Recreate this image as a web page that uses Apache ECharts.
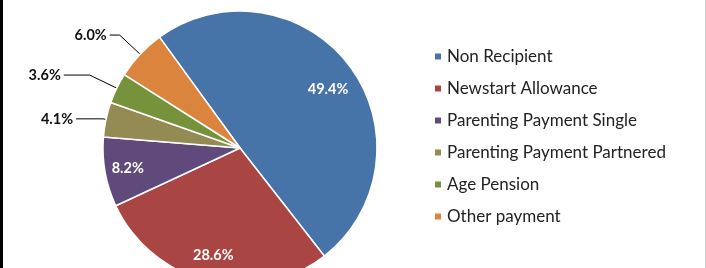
<!DOCTYPE html>
<html>
<head>
<meta charset="utf-8">
<script src="https://cdn.jsdelivr.net/npm/echarts@6/dist/echarts.min.js"></script>
<style>
  html, body { margin: 0; padding: 0; background: #fff; }
  #chart { width: 706px; height: 268px; box-sizing: border-box; border-left: 3px solid #000; border-right: 1px solid #ccc; }
</style>
</head>
<body>
<div id="chart"></div>
<script>
var categories = ['Non Recipient', 'Newstart Allowance', 'Parenting Payment Single',
                  'Parenting Payment Partnered', 'Age Pension', 'Other payment'];
var shares = [49.4, 28.6, 8.2, 4.1, 3.6, 6.0];
var colors = ['#4673a8', '#a94643', '#5f4a7b', '#948a54', '#76933c', '#db843d'];
// which labels sit inside the slice, the others get a leader line
var insideLabel = [true, true, true, false, false, false];

var myChart = echarts.init(document.getElementById('chart'), null, { renderer: 'canvas' });

var font = 'Lato, "Open Sans", sans-serif';
var pieCenter = [237, 148];
var pieRadius = 137;
// leader line lengths [radial, horizontal] for the outside labels
var leader = { 3: [3, 27], 4: [30, 26], 5: [28, 10] };

var mainData = categories.map(function (name, i) {
    var item = { name: name, value: shares[i], itemStyle: { color: colors[i] } };
    if (insideLabel[i]) {
        item.label = { show: false };
        item.labelLine = { show: false };
    } else {
        item.labelLine = { show: true, length: leader[i][0], length2: leader[i][1] };
    }
    return item;
});

var innerData = categories.map(function (name, i) {
    return { name: name, value: shares[i], label: { show: insideLabel[i] } };
});

var options = {
    animation: false,
    legend: {
        orient: 'vertical',
        left: 425,
        top: 43,
        itemWidth: 8,
        itemHeight: 8,
        itemGap: 15,
        icon: 'rect',
        data: categories,
        textStyle: { fontFamily: font, fontSize: 17, color: '#222', lineHeight: 16 }
    },
    series: [
        {
            name: 'main',
            type: 'pie',
            center: pieCenter,
            radius: [0, pieRadius],
            startAngle: 126,
            clockwise: true,
            avoidLabelOverlap: false,
            silent: true,
            itemStyle: { borderColor: '#fff', borderWidth: 1.5 },
            label: {
                show: true,
                position: 'outside',
                formatter: function (p) { return p.value.toFixed(1) + '%'; },
                fontFamily: font,
                fontWeight: 'bold',
                fontSize: 14.5,
                color: '#111',
                distanceToLabelLine: 3
            },
            labelLine: { lineStyle: { color: '#000', width: 1 } },
            labelLayout: { hideOverlap: false },
            data: mainData
        },
        {
            name: 'inner labels',
            type: 'pie',
            center: pieCenter,
            radius: [86, 136],
            startAngle: 126,
            clockwise: true,
            silent: true,
            avoidLabelOverlap: false,
            itemStyle: { color: 'rgba(0,0,0,0)' },
            label: {
                position: 'inside',
                formatter: function (p) { return p.value.toFixed(1) + '%'; },
                fontFamily: font,
                fontWeight: 'bold',
                fontSize: 14.5,
                color: '#fff'
            },
            labelLine: { show: false },
            // the big slice's label sits a little nearer the centre
            labelLayout: function (params) {
                if (params.dataIndex === 0) return { dx: -3, dy: 10 };
                if (params.dataIndex === 1) return { dy: -3 };
                return {};
            },
            data: innerData
        }
    ]
};
myChart.setOption(options);
</script>
</body>
</html>
